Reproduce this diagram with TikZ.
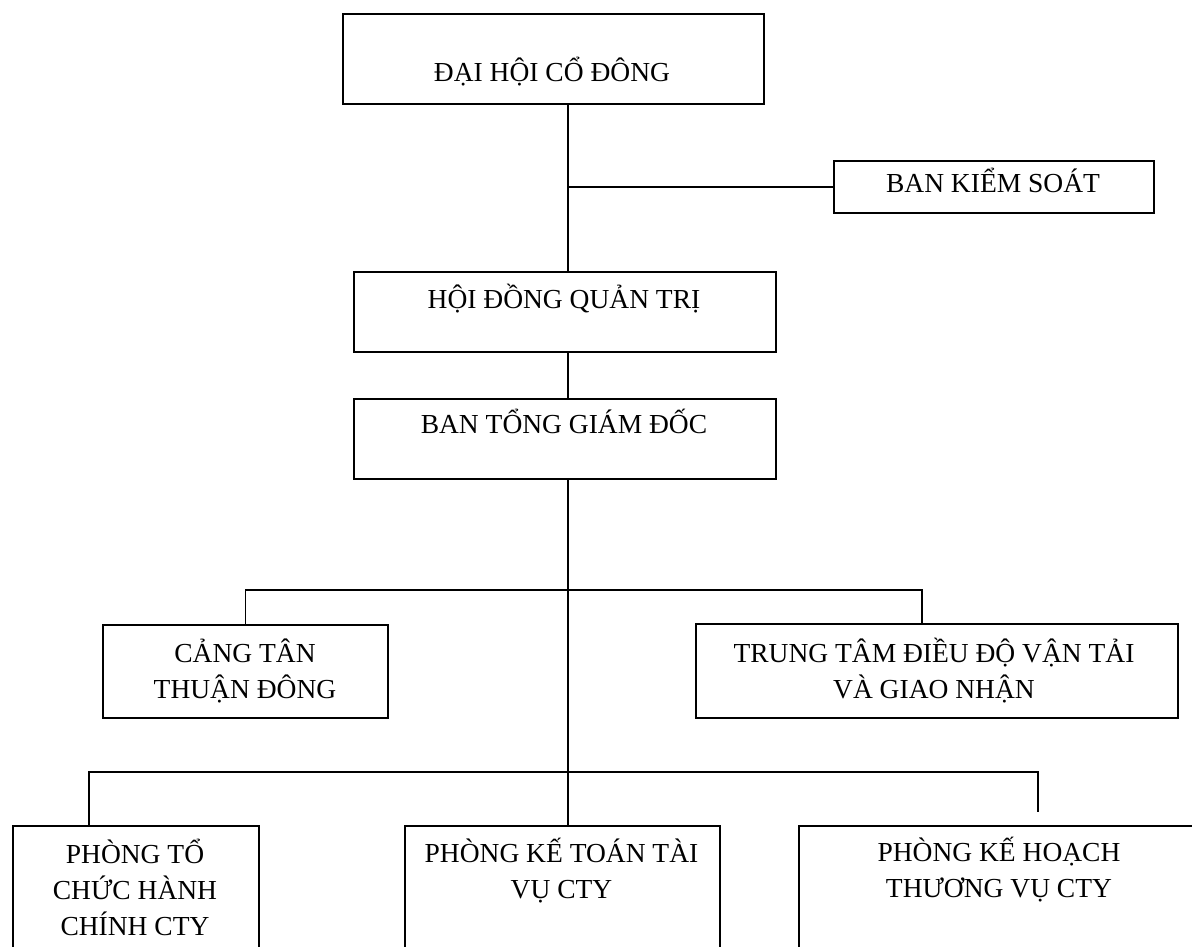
\documentclass[tikz,border=0pt]{standalone}
\usepackage{fontspec}
\setmainfont{Liberation Serif}
\begin{document}
\begin{tikzpicture}[x=1pt,y=-1pt,
  box/.style={draw, line width=1.8pt, inner sep=0pt, anchor=north west},
  txt/.style={font=\fontsize{27.5}{36}\selectfont, align=center, anchor=base, inner sep=0pt},
  link/.style={line width=1.6pt}]
\fill[white] (0,0) rectangle (1192,947);
\useasboundingbox (0,0) rectangle (1192,947);
\clip (0,0) rectangle (1192,947);
% boxes (multi-line texts are anchored at the baseline of their last line)
\node[box, minimum width=421pt, minimum height=90pt] (dhcd) at (342,13) {};
\node[txt] (tdhcd) at (552,82) {ĐẠI HỘI CỔ ĐÔNG};
\node[box, minimum width=320pt, minimum height=52pt] (bks) at (833,160) {};
\node[txt] (tbks) at (993,193) {BAN KIỂM SOÁT};
\node[box, minimum width=422pt, minimum height=80pt] (hdqt) at (353,271) {};
\node[txt] (thdqt) at (564,308) {HỘI ĐỒNG QUẢN TRỊ};
\node[box, minimum width=422pt, minimum height=80pt] (btgd) at (353,398) {};
\node[txt] (tbtgd) at (564,433) {BAN TỔNG GIÁM ĐỐC};
\node[box, minimum width=285pt, minimum height=93pt] (cang) at (102,624) {};
\node[txt] (tcang) at (245,698) {CẢNG TÂN\\THUẬN ĐÔNG};
\node[box, minimum width=482pt, minimum height=94pt] (ttdd) at (695,623) {};
\node[txt] (tttdd) at (934,698) {TRUNG TÂM ĐIỀU ĐỘ VẬN TẢI\\VÀ GIAO NHẬN};
\node[box, minimum width=246pt, minimum height=150pt] (ptc) at (12,825) {};
\node[txt] (tptc) at (135,935) {PHÒNG TỔ\\CHỨC HÀNH\\CHÍNH CTY};
\node[box, minimum width=315pt, minimum height=150pt] (pkt) at (404,825) {};
\node[txt] (tpkt) at (561.5,898) {PHÒNG KẾ TOÁN TÀI\\VỤ CTY};
\node[box, minimum width=402pt, minimum height=150pt] (pkh) at (798,825) {};
\node[txt] (tpkh) at (999,897) {PHÒNG KẾ HOẠCH\\THƯƠNG VỤ CTY};
% connectors
\coordinate (sp) at (568,0);
\coordinate (b1) at (0,590);
\coordinate (b2) at (0,772);
\coordinate (d1) at (922,0);
\coordinate (d2) at (89,0);
\coordinate (d3) at (1038,0);
\coordinate (e3) at (1038,812);
\draw[link] (sp |- dhcd.south) -- (sp |- hdqt.north);
\draw[link] (sp |- bks.west) -- (bks.west);
\draw[link] (sp |- hdqt.south) -- (sp |- btgd.north);
\draw[link] (sp |- btgd.south) -- (sp |- pkt.north);
\draw[link] (cang.north) |- (b1 -| d1) -- (d1 |- ttdd.north);
\draw[link] (d2 |- ptc.north) |- (b2 -| d3) -- (e3);
\end{tikzpicture}
\end{document}
